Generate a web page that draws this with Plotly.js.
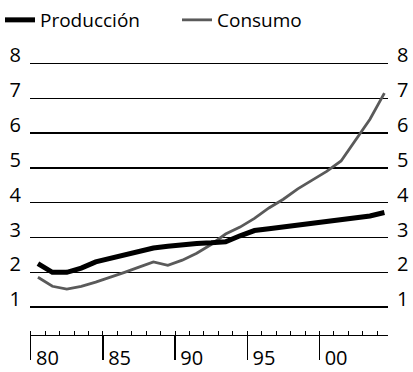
<!DOCTYPE html>
<html>
<head>
<meta charset="utf-8">
<script src="https://cdn.plot.ly/plotly-3.0.1.min.js"></script>
<style>html,body{margin:0;padding:0;background:#fff;}#chart{width:413px;height:372px;}</style>
</head>
<body>
<div id="chart"></div>
<script>
var years = [1980,1981,1982,1983,1984,1985,1986,1987,1988,1989,1990,1991,1992,1993,1994,1995,1996,1997,1998,1999,2000,2001,2002,2003,2004];
var produccion = [2.25,2.0,2.0,2.12,2.3,2.4,2.5,2.6,2.7,2.75,2.8,2.83,2.85,2.88,3.05,3.2,3.25,3.3,3.35,3.4,3.45,3.5,3.55,3.62,3.72];
var consumo = [1.86,1.6,1.52,1.6,1.72,1.85,2.0,2.15,2.3,2.2,2.35,2.55,2.8,3.1,3.3,3.55,3.85,4.1,4.4,4.65,4.9,5.2,5.8,6.4,7.15];
var xTickVals = [1980,1985,1990,1995,2000];
var xTickText = ['80','85','90','95','00'];
var yTickVals = [1,2,3,4,5,6,7,8];
var yTickText = ['1','2','3','4','5','6','7','8'];

// annual values plotted at mid-year
var xMid = years.map(function(y){ return y + 0.5; });

var font = 'Open Sans, Liberation Sans, sans-serif';
var traces = [
  {x: xMid, y: produccion, name: 'Producción', type: 'scatter', mode: 'lines',
   line: {color: '#000', width: 5}},
  {x: xMid, y: consumo, name: 'Consumo', type: 'scatter', mode: 'lines',
   line: {color: '#5a5a5a', width: 2.8}}
];
// draw consumo underneath produccion
var data = [traces[1], traces[0]];
var yRange = [0.2, 8.1];
var layout = {
  width: 413, height: 372,
  margin: {l: 30, r: 25, t: 60, b: 37},
  paper_bgcolor: '#fff', plot_bgcolor: '#fff',
  font: {family: font, color: '#000', size: 19},
  showlegend: true,
  legend: {orientation: 'h', x: 0, xref: 'container', y: 1 - 20/372, yref: 'container',
           yanchor: 'middle', xanchor: 'left', traceorder: 'reversed',
           font: {family: font, size: 19, color: '#000'}, entrywidth: 132, itemwidth: 30},
  xaxis: {range: [1979.95, 2004.75], tickmode: 'array', tickvals: xTickVals, ticktext: xTickText,
          ticks: 'outside', ticklen: 24, tickwidth: 1.5, tickcolor: '#000',
          ticklabelposition: 'outside right', ticklabelstandoff: 5, ticklabelshift: 4,
          showline: true, linecolor: '#000', linewidth: 1, showgrid: false, zeroline: false,
          tickfont: {family: font, size: 20, color: '#000'},
          minor: {dtick: 1, tick0: 1980, ticks: 'inside', ticklen: 4, tickcolor: '#000', tickwidth: 1, showgrid: false}},
  yaxis: {range: yRange, tickmode: 'array', tickvals: yTickVals, ticktext: yTickText,
          showgrid: true, gridcolor: '#000', gridwidth: 1.5, zeroline: false, showline: false,
          ticks: '', ticklabelstandoff: 8, ticklabelshift: -8,
          tickfont: {family: font, size: 20, color: '#000'}},
  yaxis2: {range: yRange, overlaying: 'y', side: 'right', tickmode: 'array',
           tickvals: yTickVals, ticktext: yTickText, showgrid: false, zeroline: false,
           showline: false, ticks: '', ticklabelstandoff: 8, ticklabelshift: -8,
           tickfont: {family: font, size: 20, color: '#000'}}
};
data.push({x: [1980], y: [1], yaxis: 'y2', mode: 'markers', marker: {opacity: 0}, showlegend: false, hoverinfo: 'skip'});
Plotly.newPlot('chart', data, layout, {displayModeBar: false, staticPlot: true});
</script>
</body>
</html>
